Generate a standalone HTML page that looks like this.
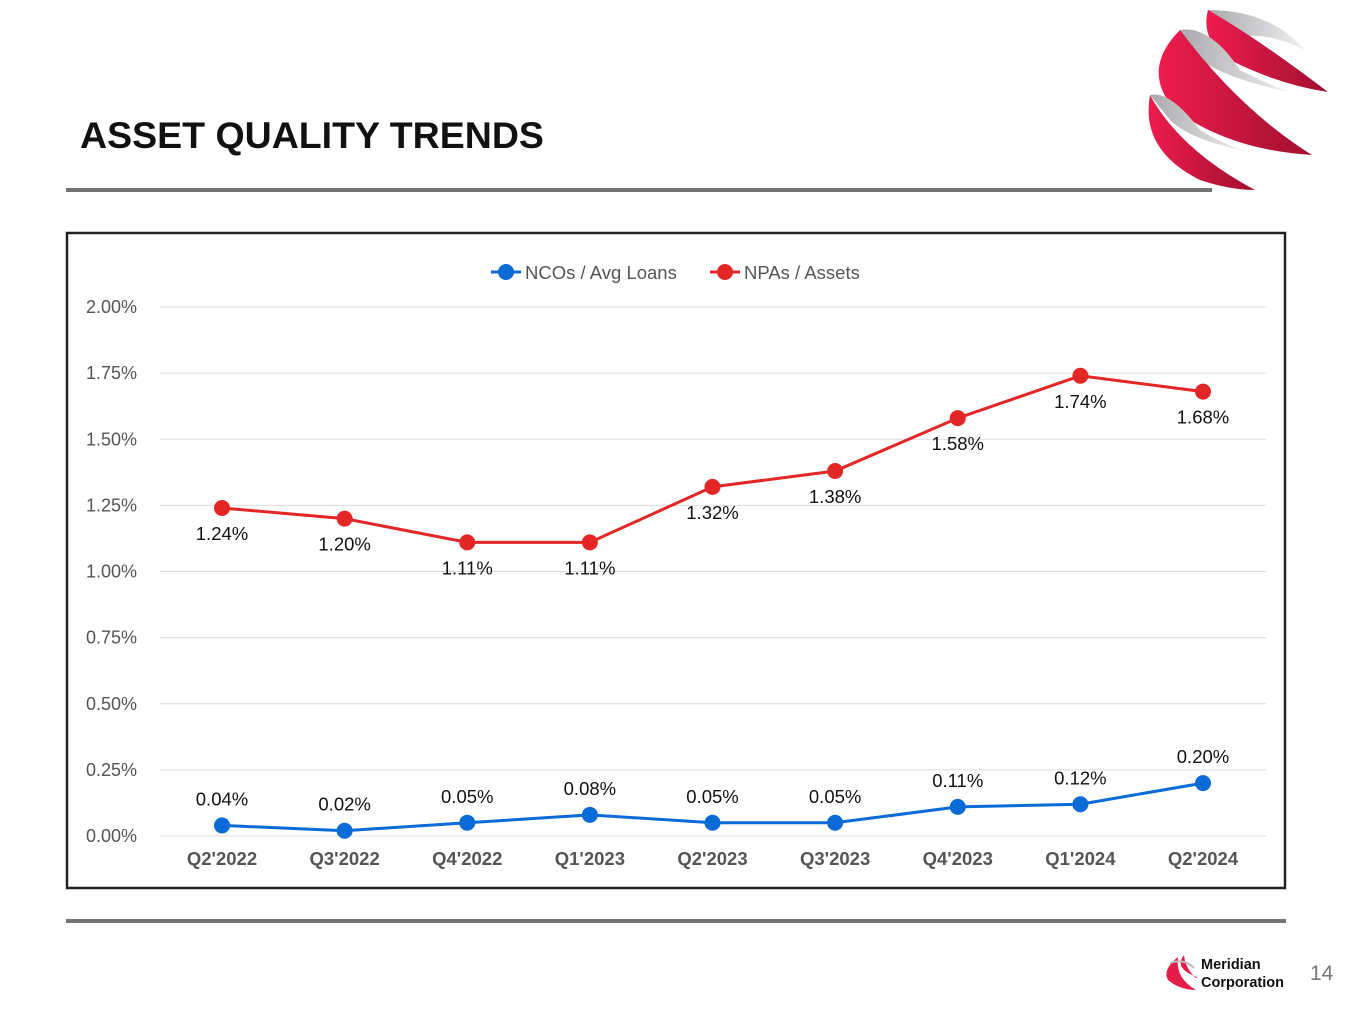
<!DOCTYPE html>
<html><head><meta charset="utf-8"><style>
body{margin:0;background:#fff;font-family:"Liberation Sans",Arial,sans-serif}
svg{display:block}
</style></head><body>
<svg width="1365" height="1024" viewBox="0 0 1365 1024" xmlns="http://www.w3.org/2000/svg">
<defs>
<linearGradient id="rg" x1="0" x2="1"><stop offset="0" stop-color="#ee1c4e"/><stop offset="1" stop-color="#a0102f"/></linearGradient>
<linearGradient id="gg" x1="0" x2="1"><stop offset="0" stop-color="#a9a9ad"/><stop offset="1" stop-color="#f1f1f2"/></linearGradient>
</defs>
<text x="80" y="148" font-size="37.5" font-weight="bold" fill="#111">ASSET QUALITY TRENDS</text>
<rect x="66" y="188" width="1146" height="4" fill="#737373"/>
<g>
<path d="M1208 10 Q1270 10 1305 50 Q1260 28 1230 40 Z" fill="url(#gg)"/>
<path d="M1208 10 Q1200 40 1230 60 Q1280 85 1328 92 Q1260 40 1208 10 Z" fill="url(#rg)"/>
<path d="M1180 30 Q1210 25 1240 70 Q1270 85 1290 92 Q1230 80 1200 60 Z" fill="url(#gg)"/>
<path d="M1180 30 Q1140 70 1175 110 Q1230 150 1312 155 Q1240 110 1180 30 Z" fill="url(#rg)"/>
<path d="M1150 95 Q1170 90 1200 130 Q1230 148 1250 152 Q1190 140 1170 120 Z" fill="url(#gg)"/>
<path d="M1150 95 Q1140 150 1200 180 Q1230 190 1255 190 Q1180 150 1150 95 Z" fill="url(#rg)"/>
</g>
<rect x="67" y="233" width="1218" height="655" fill="#fff" stroke="#222" stroke-width="2.5"/>
<g id="chart"></g>
<rect x="66" y="919" width="1220" height="4" fill="#737373"/>
<g>
<path d="M1178 957 Q1162 970 1168 980 Q1180 990 1196 990 Q1175 978 1178 957 Z" fill="#e31c4a"/>
<path d="M1184 955 Q1175 966 1190 974 Q1200 978 1196 978 Q1185 968 1184 955 Z" fill="#e31c4a"/>
<path d="M1170 963 Q1185 958 1194 968" stroke="#bbb" stroke-width="2" fill="none"/>
</g>
<text x="1201" y="969" font-size="14.5" font-weight="bold" fill="#111">Meridian</text>
<text x="1201" y="987" font-size="14.5" font-weight="bold" fill="#111">Corporation</text>
<text x="1310" y="980" font-size="21" fill="#777">14</text>
</svg>
<script>
const categories=["Q2'2022","Q3'2022","Q4'2022","Q1'2023","Q2'2023","Q3'2023","Q4'2023","Q1'2024","Q2'2024"];
const ncoValues=[0.04,0.02,0.05,0.08,0.05,0.05,0.11,0.12,0.20];
const npaValues=[1.24,1.20,1.11,1.11,1.32,1.38,1.58,1.74,1.68];
const yTicks=[0,0.25,0.5,0.75,1,1.25,1.5,1.75,2];
const NS="http://www.w3.org/2000/svg";
const g=document.getElementById('chart');
const y=v=>836-v/2*529;
const x=i=>222+i*(1203-222)/(categories.length-1);
function mk(t,a){const e=document.createElementNS(NS,t);for(const k in a)e.setAttribute(k,a[k]);g.appendChild(e);return e;}
yTicks.forEach(v=>{
 const l=mk('line',{x1:160,x2:1266,y1:y(v),y2:y(v),stroke:'#dcdcdc','stroke-width':1});
 
 
 const t=mk('text',{x:137,y:y(v)+6,'text-anchor':'end','font-size':18,fill:'#555'});
 t.textContent=v.toFixed(2)+'%';
 
 
});
categories.forEach((c,i)=>{
 const t=mk('text',{x:x(i),y:865,'text-anchor':'middle','font-size':18.5,'font-weight':'bold',fill:'#555'});
 t.textContent=c;
 
 
});
function series(vals,color,name,off){
 const p=mk('polyline',{points:vals.map((v,i)=>x(i)+','+y(v)).join(' '),fill:'none',stroke:color,'stroke-width':3});
 
 
 vals.forEach((v,i)=>{
  const c=mk('circle',{cx:x(i),cy:y(v),r:8,fill:color});
  
  
  const t=mk('text',{x:x(i),y:y(v)+off,'text-anchor':'middle','font-size':18.5,fill:'#111'});
  t.textContent=v.toFixed(2)+'%';
  
  
 });
}
series(npaValues,'#e32626','npa',32);
series(ncoValues,'#0a6ad6','nco',-20);
[['#0a6ad6','NCOs / Avg Loans',491],['#e32626','NPAs / Assets',710]].forEach(([c,n,lx])=>{
 const l=mk('line',{x1:lx,x2:lx+30,y1:272,y2:272,stroke:c,'stroke-width':3});
 
 
 const d=mk('circle',{cx:lx+15,cy:272,r:8,fill:c});
 
 
 const t=mk('text',{x:lx+34,y:279,'font-size':18.5,fill:'#555'});
 t.textContent=n;
 
 
});
</script>
</body></html>
